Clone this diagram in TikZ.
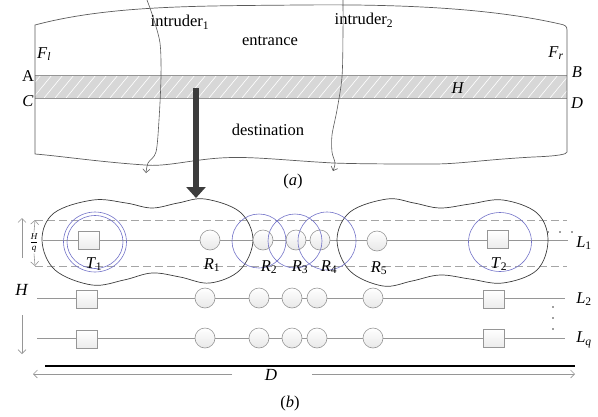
\documentclass[tikz,border=0pt]{standalone}
\usepackage{fontspec}
\setmainfont{Liberation Serif}
\usetikzlibrary{arrows.meta}
\definecolor{lineg}{RGB}{150,150,150}
\definecolor{dashg}{RGB}{165,165,165}
\definecolor{bandg}{RGB}{215,215,215}
\definecolor{bluec}{RGB}{115,115,200}
\definecolor{darkg}{RGB}{60,60,60}
\definecolor{edgeg}{RGB}{90,90,90}
\begin{document}
\begin{tikzpicture}[x=1pt,y=-1pt,
  lab/.style={inner sep=0pt,font=\fontsize{16.5}{18}\selectfont},
  rowline/.style={draw=lineg,line width=0.7pt},
  relay/.style={circle,draw=lineg,line width=0.6pt,minimum size=20pt,inner sep=0pt,top color=white,bottom color=gray!18},
  term/.style={rectangle,draw=lineg,line width=0.6pt,minimum width=21pt,minimum height=18pt,inner sep=0pt,top color=white,bottom color=gray!15},
  rangecirc/.style={draw=bluec,line width=0.6pt},
  blob/.style={draw=darkg,line width=0.7pt},
  thinarrow/.style={draw=lineg,line width=0.6pt,-{Straight Barb[length=4pt,width=8pt]}},
  intr/.style={draw=edgeg,line width=0.6pt,-{Straight Barb[length=3.5pt,width=7pt]}},
  dashline/.style={draw=dashg,line width=0.8pt,dash pattern=on 8pt off 4pt}]
\useasboundingbox (0,0) rectangle (598,416);

% ---------- part (a) ----------
% hatched band
\fill[bandg] (35,75) rectangle (567,98);
\begin{scope}
  \clip (35,75) rectangle (567,98);
  \foreach \x in {0,11,...,590} \draw[white,line width=0.6pt] (\x,98) -- (\x+19,75);
\end{scope}
\draw[lineg,line width=0.8pt] (35,75) -- (567,75);
\draw[lineg,line width=0.8pt] (35,98) -- (567,98);

% outer wavy border
\draw[edgeg,line width=0.7pt] (35,154) -- (35,25)
  .. controls (110,5) and (200,6) .. (300,5)
  .. controls (400,4) and (490,8) .. (560,24)
  .. controls (565,25) and (567,26) .. (567,30)
  -- (567,152)
  .. controls (567,154) and (560,156) .. (533,157)
  .. controls (480,160) and (460,164) .. (433,164)
  .. controls (400,164) and (360,164) .. (333,163)
  .. controls (280,160) and (250,156) .. (220,158)
  .. controls (190,160) and (165,167) .. (145,165)
  .. controls (100,162) and (60,156) .. (35,154);

% intruders
\coordinate (i1s) at (147,0);
\coordinate (i1e) at (146,173);
\coordinate (i2s) at (343,0);
\coordinate (i2e) at (333,171);
\draw[intr] plot[smooth] coordinates {(i1s) (153,17) (160,43) (161,77) (159,120) (156,152) (148,163) (i1e)};
\draw[intr] plot[smooth] coordinates {(i2s) (343,33) (342,77) (337,110) (332,135) (332,152) (335,163) (i2e)};

% labels of (a)
\node[lab] (int1) at (180,22) {intruder\textsubscript{1}};
\node[lab] (int2) at (364,20) {intruder\textsubscript{2}};
\node[lab] (ent) at (270,41) {entrance};
\node[lab] (dest) at (268,130) {destination};
\node[lab] (fl) at (44,54) {\textit{F}\textsubscript{\textit{l}}};
\node[lab] (fr) at (556,53) {\textit{F}\textsubscript{\textit{r}}};
\node[lab] (la) at (28,76) {A};
\node[lab] (lc) at (28,101) {\textit{C}};
\node[lab] (lb) at (577,72) {\textit{B}};
\node[lab] (ld) at (577,103) {\textit{D}};
\node[lab] (lh) at (458,88) {\textit{H}};
\node[lab] (capa) at (293,182) {(\textit{a})};

% big arrow
\coordinate (bas) at (196,88);
\coordinate (bae) at (196,198);
\draw[darkg,line width=5.5pt,-{Triangle[width=19pt,length=11pt]}] (bas) -- (bae);

% ---------- part (b) ----------
% dashed strip
\draw[dashline] (35,220) -- (567,220);
\draw[dashline] (35,266) -- (567,266);

% row lines
\coordinate (l1s) at (43,240); \coordinate (l1e) at (568,240);
\coordinate (l2s) at (37,298); \coordinate (l2e) at (565,298);
\coordinate (l3s) at (37,338); \coordinate (l3e) at (565,338);
\draw[rowline] (l1s) -- (l1e);
\draw[rowline] (l2s) -- (l2e);
\draw[rowline] (l3s) -- (l3e);

% blobs
\draw[blob] plot[smooth cycle,tension=0.6] coordinates {(42,240) (54,213) (93,200) (126,203) (152,208) (178,203) (205,199) (240,212) (253,240) (240,270) (210,283) (180,277) (152,273) (124,280) (92,285) (55,270)};
\draw[blob] plot[smooth cycle,tension=0.6] coordinates {(337,240) (350,212) (387,199) (414,203) (440,208) (470,204) (503,200) (537,213) (548,240) (537,270) (503,283) (470,279) (440,275) (412,281) (383,286) (350,271)};

% row 1 nodes
\node[term] (t1) at (89,240) {};
\node[relay] (r1) at (210,240) {};
\node[relay] (r2) at (263,240) {};
\node[relay] (r3) at (296,240) {};
\node[relay] (r4) at (320,240) {};
\node[relay] (r5) at (377,241) {};
\node[term] (t2) at (498,239) {};

% ranges
\draw[rangecirc] (95,242) circle[x radius=31.5pt,y radius=30pt];
\draw[rangecirc] (95,242) circle[x radius=28pt,y radius=26.5pt];
\draw[rangecirc] (259,241) circle[radius=27pt];
\draw[rangecirc] (295,241) circle[radius=27pt];
\draw[rangecirc] (327,241) circle[radius=29pt];
\draw[rangecirc] (500,242) circle[x radius=31.5pt,y radius=29.5pt];

% row 2 nodes
\node[term] (t21) at (87,299) {};
\node[relay] (c21) at (205,298) {};
\node[relay] (c22) at (259,298) {};
\node[relay] (c23) at (292,298) {};
\node[relay] (c24) at (317,298) {};
\node[relay] (c25) at (373,298) {};
\node[term] (t22) at (494,299) {};

% row q nodes
\node[term] (t31) at (87,339) {};
\node[relay] (c31) at (205,338) {};
\node[relay] (c32) at (259,338) {};
\node[relay] (c33) at (292,338) {};
\node[relay] (c34) at (317,338) {};
\node[relay] (c35) at (373,338) {};
\node[term] (t32) at (494,338) {};

% node labels
\node[lab] (lt1) at (94,264) {\textit{T}\textsubscript{1}};
\node[lab] (lr1) at (212,265) {\textit{R}\textsubscript{1}};
\node[lab] (lr2) at (269,267) {\textit{R}\textsubscript{2}};
\node[lab] (lr3) at (300,267) {\textit{R}\textsubscript{3}};
\node[lab] (lr4) at (329,267) {\textit{R}\textsubscript{4}};
\node[lab] (lr5) at (379,268) {\textit{R}\textsubscript{5}};
\node[lab] (lt2) at (499,264) {\textit{T}\textsubscript{2}};

% row labels
\node[lab] (ll1) at (584,243) {\textit{L}\textsubscript{1}};
\node[lab] (ll2) at (584,299) {\textit{L}\textsubscript{2}};
\node[lab] (llq) at (584,340) {\textit{L}\textsubscript{\textit{q}}};

% dots
\foreach \x in {548,560,572} \fill[darkg] (\x,232) circle[radius=0.8pt];
\foreach \y in {307,318,329} \fill[darkg] (553,\y) circle[radius=0.8pt];

% H/q arrow
\node[inner sep=0.5pt,font=\fontsize{9}{10}\selectfont] (hq) at (34,243) {$\displaystyle\frac{\textit{H}}{\textit{q}}$};
\coordinate (hqt) at (35,220);
\coordinate (hqb) at (35,266);
\draw[thinarrow] (hq.north) -- (hqt);
\draw[thinarrow] (hq.south) -- (hqb);

% long H arrow
\node[lab,font=\fontsize{17}{19}\selectfont] (hbig) at (22,290) {\textit{H}};
\coordinate (hup) at (22,218);
\coordinate (hdn) at (22,354);
\draw[thinarrow] (22,258) -- (hup);
\draw[thinarrow] (22,315) -- (hdn);

% D width
\coordinate (dl) at (45,366); \coordinate (dr) at (575,366);
\draw[black,line width=1.4pt] (dl) -- (dr);
\node[lab,font=\fontsize{17}{19}\selectfont] (dlab) at (271,375) {\textit{D}};
\coordinate (dal) at (33,374); \coordinate (dar) at (575,374);
\draw[thinarrow] (232,374) -- (dal);
\draw[thinarrow] (312,374) -- (dar);

\node[lab] (capb) at (290,404) {(\textit{b})};
\end{tikzpicture}
\end{document}
